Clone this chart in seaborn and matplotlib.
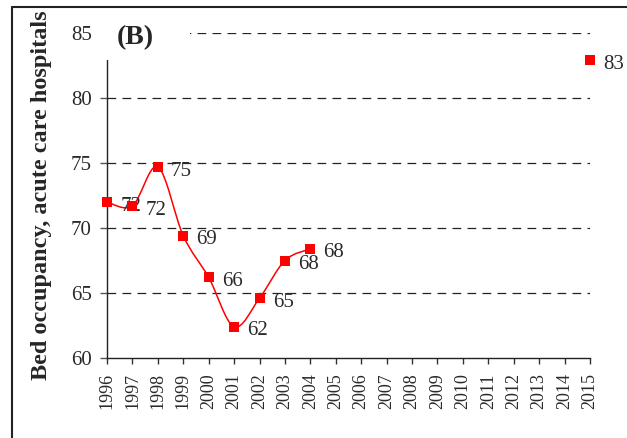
import numpy as np
import pandas as pd
import matplotlib
matplotlib.use("Agg")
import matplotlib.pyplot as plt
import seaborn as sns
from matplotlib.path import Path
from matplotlib.patches import PathPatch, Rectangle
from matplotlib.lines import Line2D

# dados
anos = [1996, 1997, 1998, 1999, 2000, 2001, 2002, 2003, 2004, 2015]
ocupacao = [72.0, 71.7, 74.7, 69.4, 66.2, 62.4, 64.6, 67.5, 68.4, 82.9]
rotulos = ["72", "72", "75", "69", "66", "62", "65", "68", "68", "83"]
anos_eixo = list(range(1996, 2016))
yticks = [60, 65, 70, 75, 80, 85]

sns.set_style("ticks")
plt.rcParams['font.family'] = ['Liberation Serif', 'DejaVu Serif']

df = pd.DataFrame({'ano': anos, 'ocupacao': ocupacao, 'rotulo': rotulos})

fig = plt.figure(figsize=(6.27, 4.38), dpi=100)
ax = fig.add_axes([107/627, 1 - 358/438, (590 - 107)/627, (358 - 33)/438])

# linha suavizada (estilo Excel) só para a série contínua 1996-2004
serie = df[df['ano'] <= 2004][['ano', 'ocupacao']].to_numpy(dtype=float)
pts = np.vstack([serie[0], serie, serie[-1]])
verts = [tuple(serie[0])]
codes = [Path.MOVETO]
for i in range(1, len(pts) - 2):
    p0, p1, p2, p3 = pts[i - 1], pts[i], pts[i + 1], pts[i + 2]
    c1 = p1 + (p2 - p0) / 6
    c2 = p2 - (p3 - p1) / 6
    verts += [tuple(c1), tuple(c2), tuple(p2)]
    codes += [Path.CURVE4] * 3
ax.add_patch(PathPatch(Path(verts, codes), facecolor='none', edgecolor='#ff0000', lw=1.1, zorder=3))

sns.scatterplot(data=df, x='ano', y='ocupacao', marker='s', s=45, color='#ff0000',
                edgecolor='#ff0000', linewidth=0, ax=ax, zorder=4, clip_on=False)

for _, r in df.iterrows():
    ax.annotate(r['rotulo'], (r['ano'], r['ocupacao']), xytext=(17, -3),
                textcoords='offset points', ha='center', va='center',
                fontsize=15, color='#2a2a2a', annotation_clip=False)

ax.set_xlim(1996, 2015)
ax.set_ylim(60, 85)
ax.set_xticks(anos_eixo)
ax.set_xticklabels([str(a) for a in anos_eixo], rotation=90, fontsize=13, color='#2a2a2a')
ax.set_yticks(yticks)
ax.set_yticklabels([str(v) for v in yticks], fontsize=15, color='#2a2a2a')
ax.tick_params(axis='y', length=5, width=1, pad=6, color='#555555')
ax.tick_params(axis='x', length=4, width=1, pad=7, color='#333333')
for v in yticks[1:]:
    ax.axhline(v, color='#222222', lw=0.9, ls=(0, (7, 5)), zorder=1)
ax.set_xlabel('')
ax.set_ylabel('')
sns.despine(ax=ax)
for s in ['left', 'bottom']:
    ax.spines[s].set_color('#222222')
    ax.spines[s].set_linewidth(1)

# caixa branca atrás do rótulo (B)
fig.add_artist(Rectangle((98/627, 1 - 60/438), 92/627, 45/438, transform=fig.transFigure,
                         facecolor='white', edgecolor='none', zorder=5))
fig.text(135/627, 1 - 38/438, '(B)', fontsize=20, fontweight='bold', ha='center', va='center', zorder=6)

fig.text(42/627, 1 - 380/438, 'Bed occupancy, acute care hospitals', rotation=90,
         fontsize=17.5, fontweight='bold', ha='center', va='bottom')

# moldura
fig.add_artist(Line2D([12/627, 12/627], [0, 1 - 7/438], transform=fig.transFigure, color='#222222', lw=1.5))
fig.add_artist(Line2D([12/627, 1], [1 - 7/438, 1 - 7/438], transform=fig.transFigure, color='#222222', lw=1.5))

fig.savefig('out.png', dpi=100)
